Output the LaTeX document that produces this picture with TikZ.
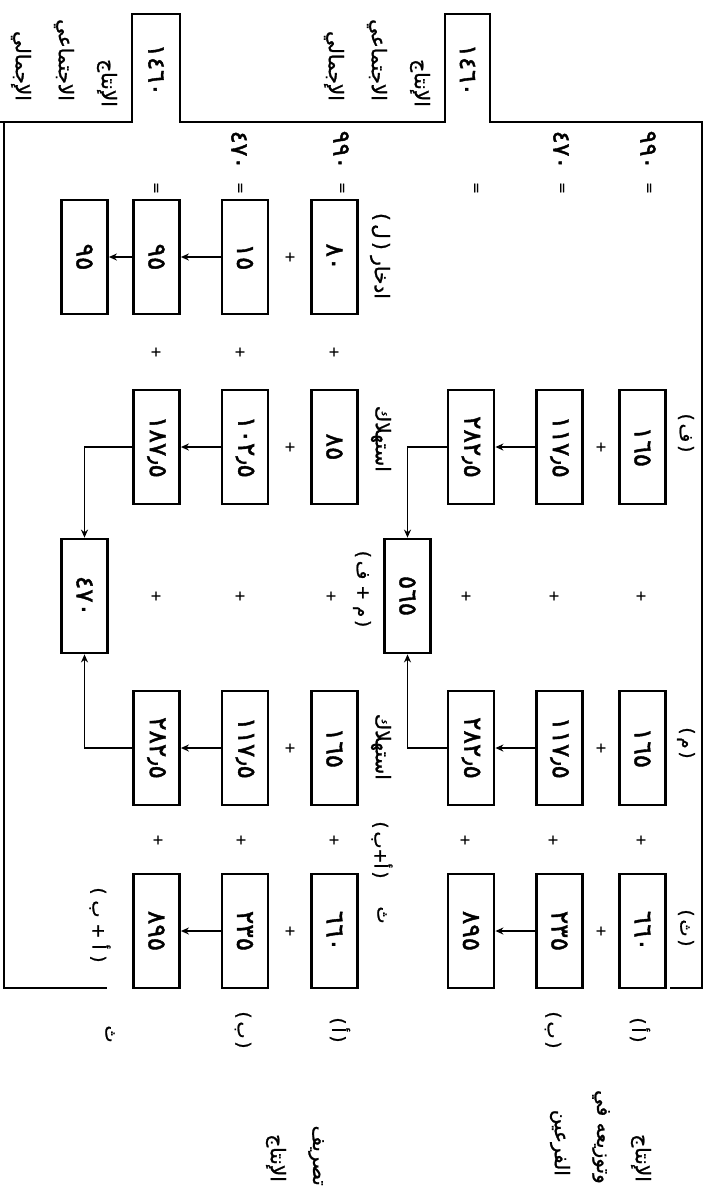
\documentclass[tikz,border=0pt]{standalone}
\usepackage{fontspec}
\usepackage{graphicx}
\newfontfamily\arf[Script=Arabic,FakeBold=1.2]{DejaVu Sans}
\newfontfamily\arn[Script=Arabic,FakeBold=1.6]{DejaVu Sans}
\newfontfamily\symf[FakeBold=0.6]{DejaVu Sans}
\TeXXeTstate=1
\usetikzlibrary{arrows.meta}
\newcommand{\rtn}[1]{\rotatebox[origin=c]{-90}{\arn\fontsize{25}{28}\selectfont #1}}
\begin{document}
\begin{tikzpicture}[x=1pt,y=-1pt,
 bx/.style={draw,line width=2.8pt,minimum width=46pt,minimum height=114pt,inner sep=0pt},
 num/.style={font=\arn\fontsize{24}{28}\selectfont,rotate=-90,inner sep=0pt},
 lab/.style={font=\arf\fontsize{20}{24}\selectfont,rotate=-90,inner sep=0pt},
 plab/.style={font=\arf\fontsize{18}{20}\selectfont,rotate=-90,inner sep=0pt},
 sym/.style={font=\symf\fontsize{14}{16}\selectfont,rotate=-90,inner sep=0pt},
 frame/.style={line width=2.8pt},
 arr/.style={line width=2pt,-{Stealth[length=8pt,width=7pt]}},
 con/.style={line width=1.5pt,-{Stealth[length=8pt,width=7pt]}}]
\fill[white] (0,0) rectangle (708,1192);
\useasboundingbox (0,0) rectangle (708,1192);
% frame
\draw[frame] (0,122) -- (132,122) -- (132,14) -- (180,14) -- (180,122) -- (445,122) -- (445,14) -- (490,14) -- (490,122) -- (702,122) -- (702,988) -- (670,988);
\draw[frame] (4,122) -- (4,988) -- (107,988);
\node[num] (tabA) at (156,70) {١٤٦٠};
\node[num] (tabB) at (467.5,70) {١٤٦٠};
% top labels
\node[lab,anchor=east] (tA1) at (107,107) {الإنتاج};
\node[lab,anchor=east] (tA2) at (64,101) {الاجتماعي};
\node[lab,anchor=east] (tA3) at (21,101) {الإجمالي};
\node[lab,anchor=east] (tB1) at (420,107) {الإنتاج};
\node[lab,anchor=east] (tB2) at (377,101) {الاجتماعي};
\node[lab,anchor=east] (tB3) at (334,101) {الإجمالي};
% totals and equals
\node[num] (s1) at (239,150) {٤٧٠};
\node[num] (s2) at (341,150) {٩٩٠};
\node[num] (s3) at (561,150) {٤٧٠};
\node[num] (s4) at (648,150) {٩٩٠};
\node[sym] (e1) at (155,188) {=};
\node[sym] (e2) at (239,188) {=};
\node[sym] (e3) at (341,188) {=};
\node[sym] (e4) at (475,188) {=};
\node[sym] (e5) at (561,188) {=};
\node[sym] (e6) at (648,188) {=};
% row 1
\node[bx] (b10) at (84.5,257) {\rtn{٩٥}};
\node[bx] (b11) at (156.5,257) {\rtn{٩٥}};
\node[bx] (b12) at (245,257) {\rtn{١٥}};
\node[bx] (b13) at (334.5,257) {\rtn{٨٠}};
\node[lab,anchor=east] (l1) at (380,299) {\beginR ادخار (\,ل\,)\endR};
\node[sym] (p13) at (290,257) {+};
\draw[arr] (b12.west) -- (b11.east);
\draw[arr] (b11.west) -- (b10.east);
% plus row A
\node[sym] (pa1) at (156,352) {+};
\node[sym] (pa2) at (240,352) {+};
\node[sym] (pa3) at (334,352) {+};
% row 2
\node[bx] (b21) at (156.5,447) {\rtn{١٨٧٫٥}};
\node[bx] (b22) at (245,447) {\rtn{١٠٢٫٥}};
\node[bx] (b23) at (334.5,447) {\rtn{٨٥}};
\node[bx] (b25) at (471,447) {\rtn{٢٨٢٫٥}};
\node[bx] (b26) at (559.5,447) {\rtn{١١٧٫٥}};
\node[bx] (b27) at (642.5,447) {\rtn{١٦٥}};
\node[lab,anchor=east] (l2) at (381,472) {استهلاك};
\node[plab] (rf) at (686,433) {\beginR(\,ف\,)\endR};
\node[sym] (p23) at (290,447) {+};
\node[sym] (p27) at (601,447) {+};
\draw[arr] (b22.west) -- (b21.east);
\draw[arr] (b26.west) -- (b25.east);
% row 3
\node[bx] (b30) at (84.5,596) {\rtn{٤٧٠}};
\node[bx] (b34) at (407.5,596) {\rtn{٥٦٥}};
\node[plab] (l3) at (362,589) {\beginR(\,م + ف\,)\endR};
\node[sym] (p31) at (156,596) {+};
\node[sym] (p32) at (240,596) {+};
\node[sym] (p33) at (331,596) {+};
\node[sym] (p35) at (466,596) {+};
\node[sym] (p36) at (554,596) {+};
\node[sym] (p37) at (641,596) {+};
\draw[con] (b21.west) -| (b30.north);
\draw[con] (b25.west) -| (b34.north);
% row 4
\node[bx] (b41) at (156.5,748) {\rtn{٢٨٢٫٥}};
\node[bx] (b42) at (245,748) {\rtn{١١٧٫٥}};
\node[bx] (b43) at (334.5,748) {\rtn{١٦٥}};
\node[bx] (b45) at (471,748) {\rtn{٢٨٢٫٥}};
\node[bx] (b46) at (559.5,748) {\rtn{١١٧٫٥}};
\node[bx] (b47) at (642.5,748) {\rtn{١٦٥}};
\node[lab,anchor=east] (l4) at (381,780) {استهلاك};
\node[plab] (rm) at (686,743) {\beginR(\,م\,)\endR};
\node[sym] (p43) at (290,748) {+};
\node[sym] (p47) at (601,748) {+};
\draw[arr] (b42.west) -- (b41.east);
\draw[arr] (b46.west) -- (b45.east);
\draw[con] (b41.west) -| (b30.south);
\draw[con] (b45.west) -| (b34.south);
% plus row B
\node[sym] (pb1) at (158,840) {+};
\node[sym] (pb2) at (241,840) {+};
\node[sym] (pb3) at (334,840) {+};
\node[sym] (pb5) at (465,840) {+};
\node[sym] (pb6) at (553,840) {+};
\node[sym] (pb7) at (641,840) {+};
% row 5
\node[bx] (b51) at (156.5,931) {\rtn{٨٩٥}};
\node[bx] (b52) at (245,931) {\rtn{٢٣٥}};
\node[bx] (b53) at (334.5,931) {\rtn{٦٦٠}};
\node[bx] (b55) at (471,931) {\rtn{٨٩٥}};
\node[bx] (b56) at (559.5,931) {\rtn{٢٣٥}};
\node[bx] (b57) at (642.5,931) {\rtn{٦٦٠}};
\node[plab] (l5) at (382,850) {\beginR(\,أ+ب\,)\endR};
\node[plab] (l5b) at (382,915) {ث};
\node[plab] (l5c) at (100,925) {\beginR(\hspace{6pt}أ\hspace{6pt}+\hspace{6pt}ب\hspace{6pt})\endR};
\node[plab] (rt) at (686,928) {\beginR(\,ث\,)\endR};
\node[sym] (p53) at (290,931) {+};
\node[sym] (p57) at (601,931) {+};
\draw[arr] (b52.west) -- (b51.east);
\draw[arr] (b56.west) -- (b55.east);
% row labels below
\node[plab] (ra) at (640,1030) {\beginR(\,أ\,)\endR};
\node[plab] (rb) at (553,1030) {\beginR(\,ب\,)\endR};
\node[plab] (la) at (340,1030) {\beginR(\,أ\,)\endR};
\node[plab] (lb) at (243,1030) {\beginR(\,ب\,)\endR};
\node[plab] (lt) at (110,1034) {ث};
% bottom titles
\node[lab,anchor=east] (bt1) at (316,1186) {تصريف};
\node[lab,anchor=east] (bt2) at (276,1182) {الإنتاج};
\node[lab,anchor=east] (bd1) at (641,1182) {الإنتاج};
\node[lab,anchor=east] (bd2) at (601,1184) {\beginR وتوزيعه في\endR};
\node[lab,anchor=east] (bd3) at (560,1176) {الفرعين};
\end{tikzpicture}
\end{document}
